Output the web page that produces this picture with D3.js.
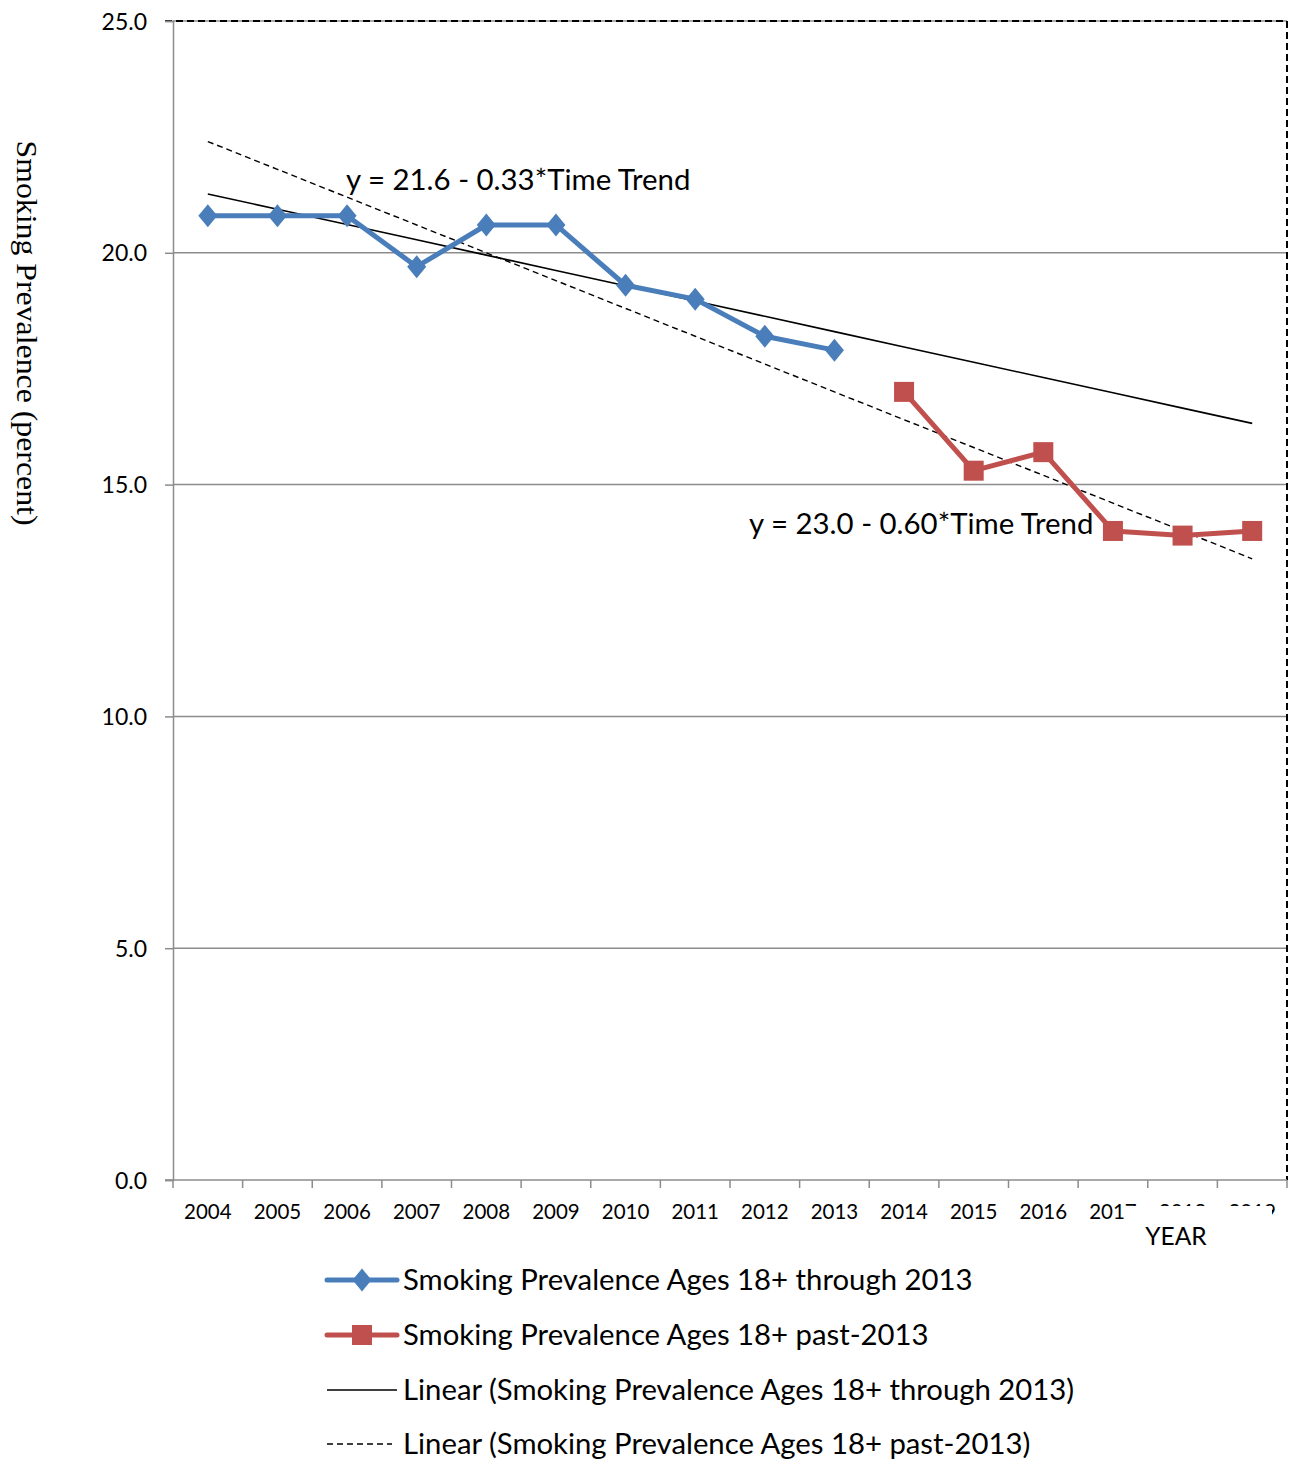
<!DOCTYPE html>
<html><head><meta charset="utf-8">
<script src="https://cdn.jsdelivr.net/npm/d3@7"></script>
<style>body{margin:0;background:#fff}svg{display:block}</style>
</head><body>
<script>
const years = ["2004","2005","2006","2007","2008","2009","2010","2011","2012","2013","2014","2015","2016","2017","2018","2019"];
const blueYears = ["2004","2005","2006","2007","2008","2009","2010","2011","2012","2013"];
const blueValues = [20.8,20.8,20.8,19.7,20.6,20.6,19.3,19.0,18.2,17.9];
const redYears = ["2014","2015","2016","2017","2018","2019"];
const redValues = [17.0,15.3,15.7,14.0,13.9,14.0];
const trendSolid = {intercept:21.6, slope:-0.33};
const trendDashed = {intercept:23.0, slope:-0.60};
const yTicks = [0,5,10,15,20,25];
const legendLabels = ["Smoking Prevalence Ages 18+ through 2013","Smoking Prevalence Ages 18+ past-2013","Linear (Smoking Prevalence Ages 18+ through 2013)","Linear (Smoking Prevalence Ages 18+ past-2013)"];
const eqLabels = ["y = 21.6 - 0.33*Time Trend","y = 23.0 - 0.60*Time Trend"];

const W=1293,H=1461;
const L=173,R=1287,T=21,B=1180;
const BLUE="#4a7ebb", RED="#c0504d";
const sans="Lato, 'Open Sans', sans-serif";
const svg=d3.select("body").append("svg").attr("width",W).attr("height",H);
const x=d3.scaleBand().domain(years).range([L,R]);
const y=d3.scaleLinear().domain([0,25]).range([B,T]);
const cx=d=>x(d)+x.bandwidth()/2;

// gridlines
svg.append("g").selectAll("line").data(yTicks.filter(v=>v>0)).join("line")
 .attr("x1",L).attr("x2",R).attr("y1",d=>y(d)).attr("y2",d=>y(d))
 .attr("stroke","#8c8c8c").attr("stroke-width",1.5);
// top dashed border
svg.append("line").attr("x1",L-8).attr("x2",R).attr("y1",y(25)).attr("y2",y(25))
 .attr("stroke","#000").attr("stroke-width",2).attr("stroke-dasharray","7,4");
svg.append("line").attr("x1",R).attr("x2",R).attr("y1",y(25)).attr("y2",B)
 .attr("stroke","#000").attr("stroke-width",2).attr("stroke-dasharray","7,4");

// y axis
const yAxis=d3.axisLeft(y).tickValues(yTicks).tickSize(8).tickFormat(d3.format(".1f"));
const gy=svg.append("g").attr("transform",`translate(${L},0)`).call(yAxis);
gy.select(".domain").attr("stroke","#8c8c8c").attr("stroke-width",1.5);
gy.selectAll(".tick line").attr("stroke","#8c8c8c").attr("stroke-width",1.5);
gy.selectAll(".tick text").attr("font-family",sans).attr("font-size",23).attr("fill","#000").attr("x",-26).attr("dy","0.35em");

// x axis
const xAxis=d3.axisBottom(x).tickSize(0).tickSizeOuter(0);
const gx=svg.append("g").attr("transform",`translate(0,${B})`).call(xAxis);
gx.select(".domain").remove();
gx.append("line").attr("x1",L-8).attr("x2",R).attr("stroke","#8c8c8c").attr("stroke-width",1.5);
gx.selectAll(".tickmark").data(d3.range(years.length+1)).join("line")
 .attr("x1",i=>L+i*x.step()).attr("x2",i=>L+i*x.step()).attr("y1",0).attr("y2",8)
 .attr("stroke","#8c8c8c").attr("stroke-width",1.5);
gx.selectAll(".tick text").attr("font-family",sans).attr("font-size",20.5).attr("fill","#000").attr("y",24).attr("dy","0.71em");

// x title box covering labels
svg.append("rect").attr("x",1125).attr("y",1206).attr("width",147).attr("height",48).attr("fill","#fff");
svg.append("text").attr("x",1176).attr("y",1245).attr("text-anchor","middle")
 .attr("font-family",sans).attr("font-size",24.5).text("YEAR");

// y title
svg.append("text").attr("transform","translate(17,333) rotate(90)").attr("text-anchor","middle")
 .attr("font-family","'Liberation Serif','Times New Roman',serif").attr("font-size",29)
 .attr("textLength",385).attr("lengthAdjust","spacingAndGlyphs").text("Smoking Prevalence (percent)");

// trend lines (t = 1..16)
const tr=(c)=>years.map((yr,i)=>[cx(yr),y(c.intercept+c.slope*(i+1))]);
const line=d3.line();
svg.append("path").attr("d",line(tr(trendSolid))).attr("fill","none").attr("stroke","#000").attr("stroke-width",1.6);
svg.append("path").attr("d",line(tr(trendDashed))).attr("fill","none").attr("stroke","#000").attr("stroke-width",1.4).attr("stroke-dasharray","6,4");

// series
const lineD=d3.line().x(d=>cx(d[0])).y(d=>y(d[1]));
const blueData=blueYears.map((d,i)=>[d,blueValues[i]]);
const redData=redYears.map((d,i)=>[d,redValues[i]]);
svg.append("path").attr("d",lineD(blueData)).attr("fill","none").attr("stroke",BLUE).attr("stroke-width",5).attr("stroke-linejoin","round");
svg.append("path").attr("d",lineD(redData)).attr("fill","none").attr("stroke",RED).attr("stroke-width",5).attr("stroke-linejoin","round");
const diamond="M0,-11.5L9.5,0L0,11.5L-9.5,0Z";
svg.append("g").selectAll("path").data(blueData).join("path")
 .attr("transform",d=>`translate(${cx(d[0])},${y(d[1])})`).attr("d",diamond).attr("fill",BLUE);
svg.append("g").selectAll("rect").data(redData).join("rect")
 .attr("x",d=>cx(d[0])-10).attr("y",d=>y(d[1])-10).attr("width",20).attr("height",20).attr("fill",RED);

// equations
svg.append("text").attr("x",346).attr("y",190).attr("font-family",sans).attr("font-size",29.4).text(eqLabels[0]);
svg.append("text").attr("x",749).attr("y",534).attr("font-family",sans).attr("font-size",29.4).text(eqLabels[1]);

// legend
const ly=[1280,1335,1390,1444];
const lg=svg.append("g");
lg.selectAll("text").data(legendLabels).join("text").attr("x",403).attr("y",(d,i)=>ly[i]).attr("dy","0.35em")
 .attr("font-family",sans).attr("font-size",29.3).text(d=>d);
lg.append("line").attr("x1",327).attr("x2",397).attr("y1",ly[0]).attr("y2",ly[0]).attr("stroke",BLUE).attr("stroke-width",5).attr("stroke-linecap","round");
lg.append("path").attr("transform",`translate(362,${ly[0]})`).attr("d",diamond).attr("fill",BLUE);
lg.append("line").attr("x1",327).attr("x2",397).attr("y1",ly[1]).attr("y2",ly[1]).attr("stroke",RED).attr("stroke-width",5).attr("stroke-linecap","round");
lg.append("rect").attr("x",352).attr("y",ly[1]-10).attr("width",20).attr("height",20).attr("fill",RED);
lg.append("line").attr("x1",327).attr("x2",397).attr("y1",ly[2]).attr("y2",ly[2]).attr("stroke","#000").attr("stroke-width",1.6);
lg.append("line").attr("x1",327).attr("x2",392).attr("y1",ly[3]).attr("y2",ly[3]).attr("stroke","#000").attr("stroke-width",1.4).attr("stroke-dasharray","6,4");
</script>
</body></html>
